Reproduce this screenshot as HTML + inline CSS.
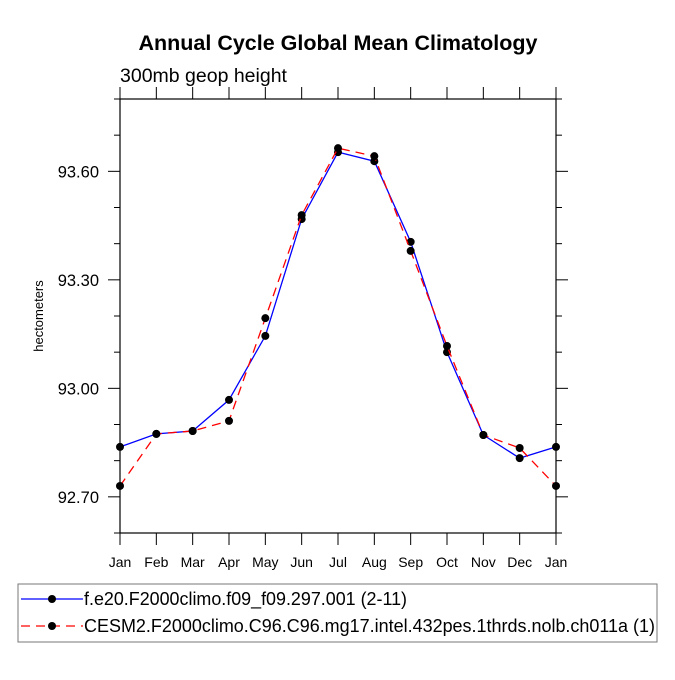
<!DOCTYPE html>
<html><head><meta charset="utf-8"><style>
body{margin:0;background:#fff}
svg text{font-family:"Liberation Sans",Helvetica,Arial,sans-serif;fill:#000}
</style></head><body>
<svg width="675" height="675" viewBox="0 0 675 675" xmlns="http://www.w3.org/2000/svg">
<text x="338" y="50" text-anchor="middle" font-size="21.5" font-weight="bold">Annual Cycle Global Mean Climatology</text>
<text x="120" y="82" font-size="19.5">300mb geop height</text>
<text transform="translate(43,316) rotate(-90)" text-anchor="middle" font-size="13">hectometers</text>
<g id="axes"></g>
<g id="series"></g>
<rect x="18" y="584" width="639" height="58" fill="none" stroke="#777" stroke-width="1"/>
<g>
<line x1="21" y1="599" x2="83" y2="599" stroke="#0000ff" stroke-width="1.3"/>
<circle cx="52" cy="599" r="4" fill="#000"/>
<text x="84" y="605" font-size="18" textLength="323" lengthAdjust="spacingAndGlyphs">f.e20.F2000climo.f09_f09.297.001 (2-11)</text>
</g>
<g>
<line x1="21" y1="626" x2="83" y2="626" stroke="#ff0000" stroke-width="1.3" stroke-dasharray="9,6"/>
<circle cx="52" cy="626" r="4" fill="#000"/>
<text x="84" y="632" font-size="18" textLength="571" lengthAdjust="spacingAndGlyphs">CESM2.F2000climo.C96.C96.mg17.intel.432pes.1thrds.nolb.ch011a (1)</text>
</g>
</svg>
<script>
const months = ["Jan","Feb","Mar","Apr","May","Jun","Jul","Aug","Sep","Oct","Nov","Dec","Jan"];
const blueValues = [92.838,92.874,92.882,92.968,93.145,93.468,93.653,93.628,93.405,93.100,92.871,92.807,92.838];
const redValues = [92.730,92.874,92.882,92.910,93.194,93.479,93.664,93.642,93.380,93.117,92.871,92.835,92.730];
const yTicks = [92.70,93.00,93.30,93.60];
const yTickLabels = ["92.70","93.00","93.30","93.60"];
const yMinorTicks = [92.6,92.8,92.9,93.1,93.2,93.4,93.5,93.7,93.8];

const X0=120,X1=556,Y0=533,Y1=99,YMIN=92.6,YMAX=93.8;
const sx=i=>X0+i*(X1-X0)/(months.length-1);
const sy=v=>Y0-(v-YMIN)/(YMAX-YMIN)*(Y0-Y1);
const NS="http://www.w3.org/2000/svg";
function mk(tag,attrs,parent){const e=document.createElementNS(NS,tag);for(const k in attrs)e.setAttribute(k,attrs[k]);parent.appendChild(e);return e;}
const ax=document.getElementById('axes');
const frame=mk('rect',{x:X0,y:Y1,width:X1-X0,height:Y0-Y1,fill:'none',stroke:'#000','stroke-width':1.2},ax);


months.forEach((m,i)=>{
  const x=sx(i);
  const t1=mk('line',{x1:x,y1:Y0,x2:x,y2:Y0+12,stroke:'#000','stroke-width':1},ax);
  
  
  const t2=mk('line',{x1:x,y1:Y1,x2:x,y2:Y1-12,stroke:'#000','stroke-width':1},ax);
  
  
  const l=mk('text',{x:x,y:Y0+34,'text-anchor':'middle','font-size':14},ax);
  l.textContent=m;
  
  
});
yTicks.forEach((v,i)=>{
  const y=sy(v);
  const a=mk('line',{x1:X0-12,y1:y,x2:X0,y2:y,stroke:'#000','stroke-width':1},ax);
  
  
  const b=mk('line',{x1:X1,y1:y,x2:X1+12,y2:y,stroke:'#000','stroke-width':1},ax);
  
  
  const l=mk('text',{x:X0-21,y:y+6,'text-anchor':'end','font-size':16.5},ax);
  l.textContent=yTickLabels[i];
  
  
});
yMinorTicks.forEach(v=>{
  const y=sy(v);
  const a=mk('line',{x1:X0-6,y1:y,x2:X0,y2:y,stroke:'#000','stroke-width':1},ax);
  
  
  const b=mk('line',{x1:X1,y1:y,x2:X1+6,y2:y,stroke:'#000','stroke-width':1},ax);
  
  
});
const sg=document.getElementById('series');
function drawSeries(vals,color,dash,name){
  const pts=vals.map((v,i)=>sx(i)+','+sy(v)).join(' ');
  const pl=mk('polyline',{points:pts,fill:'none',stroke:color,'stroke-width':1.3},sg);
  if(dash)pl.setAttribute('stroke-dasharray',dash);
  
  
  vals.forEach((v,i)=>{
    const c=mk('circle',{cx:sx(i),cy:sy(v),r:4,fill:'#000'},sg);
    
    
  });
}
drawSeries(blueValues,'#0000ff',null,'blue-series');
drawSeries(redValues,'#ff0000','9,6','red-series');
</script>
</body></html>
